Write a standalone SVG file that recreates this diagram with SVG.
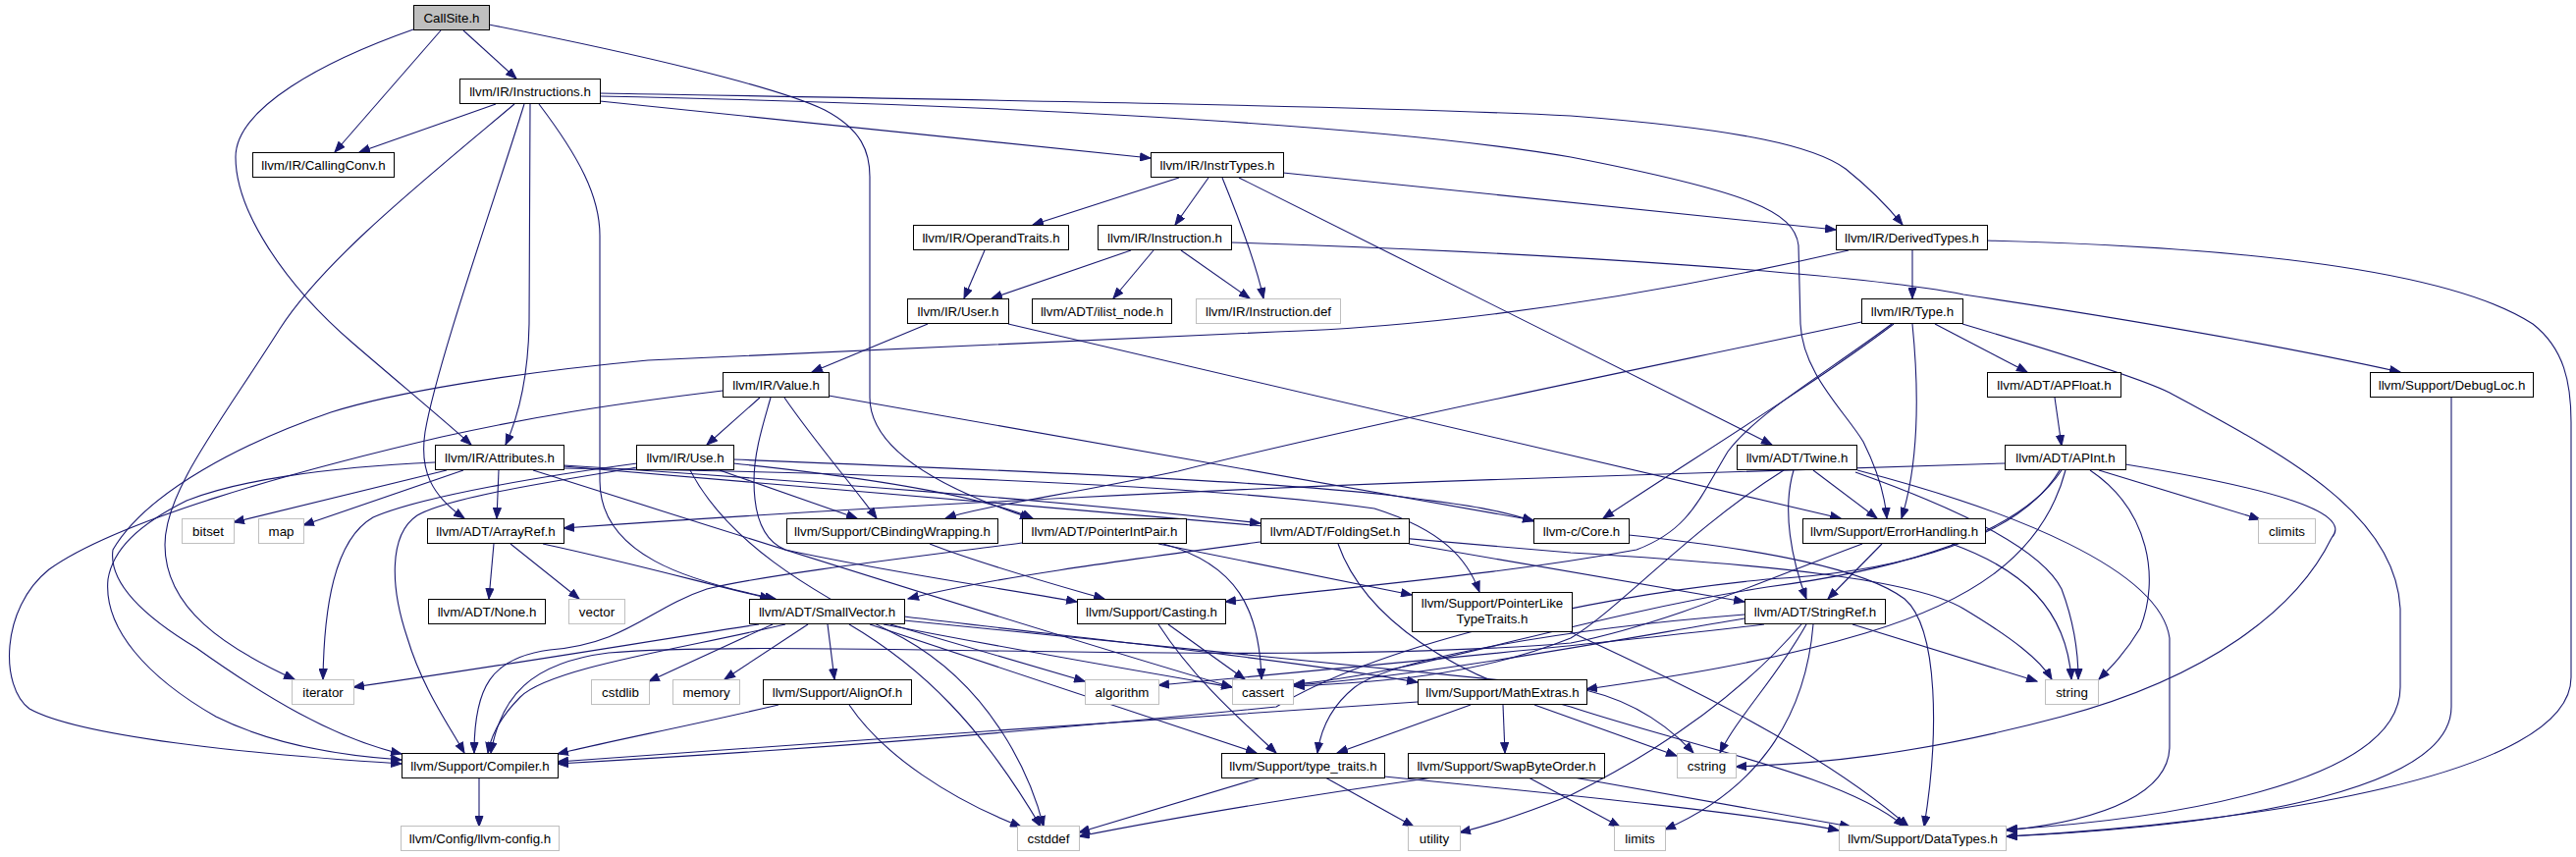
<svg xmlns="http://www.w3.org/2000/svg" width="2624" height="873" viewBox="0 0 2624 873">
<style>
.bg{fill:#fff}
.n rect{fill:#fff;stroke:#000;stroke-width:1}
.g rect{fill:#fff;stroke:#bfbfbf;stroke-width:1}
.root rect{fill:#bfbfbf;stroke:#000;stroke-width:1}
text{font-family:"Liberation Sans",Arial,Helvetica,sans-serif;font-size:13.33px;text-anchor:middle;fill:#000}
#edges path{fill:none;stroke:#191970;stroke-width:1.1;marker-end:url(#a)}
</style>
<defs>
<marker id="a" markerWidth="12" markerHeight="9" refX="11" refY="4.5" orient="auto" markerUnits="userSpaceOnUse">
<path d="M0.5,0.5 L11,4.5 L0.5,8.5 z" fill="#191970" stroke="#191970" stroke-width="1"/>
</marker>
</defs>
<rect class="bg" x="0" y="0" width="2624" height="873"/>
<g id="edges">
<path d="M449,31 L341,155"/>
<path d="M472,31 L526,80"/>
<path d="M421,30 C330,62 240,110 240,160 C240,215 290,290 360,350 C410,393 452,428 480,453"/>
<path d="M498,25 C650,55 790,88 840,112 C878,132 886,155 886,180 L886,405 C886,455 950,495 1050,528"/>
<path d="M505,106 L366,155"/>
<path d="M540,106 L539,330 C538,380 530,420 515,453"/>
<path d="M524,106 C430,185 330,265 285,335 C225,430 168,500 168,555 C168,620 230,660 300,692"/>
<path d="M534,106 C505,200 445,370 433,440 C427,480 440,505 473,528"/>
<path d="M549,106 C590,160 611,200 611,240 L611,490 C611,565 700,592 790,610"/>
<path d="M611,103 L1172,161"/>
<path d="M611,95 C900,100 1400,108 1600,118 C1780,132 1850,150 1880,172 C1905,192 1925,213 1938,229"/>
<path d="M611,98 C1000,106 1400,126 1600,160 C1780,195 1828,215 1832,250 L1834,330 C1836,380 1880,420 1898,450 C1912,478 1920,505 1922,528"/>
<path d="M1201,181 L1052,229"/>
<path d="M1231,181 L1197,229"/>
<path d="M1245,181 C1265,230 1280,270 1287,304"/>
<path d="M1262,181 L1805,453"/>
<path d="M1307,176 L1870,234"/>
<path d="M1003,255 L982,304"/>
<path d="M1152,255 L1010,304"/>
<path d="M1175,255 L1134,304"/>
<path d="M1203,255 L1273,304"/>
<path d="M1254,247 C1600,258 1900,280 2000,300 C2200,330 2350,358 2445,379"/>
<path d="M1948,255 L1948,304"/>
<path d="M1883,255 C1600,320 1400,335 1300,338 L660,367 C520,380 400,400 337,420 C250,450 150,500 115,560 C110,595 150,630 200,660 C270,710 340,752 409,768"/>
<path d="M2024,245 C2300,252 2500,278 2580,330 C2612,355 2619,390 2619,430 L2619,690 C2619,790 2300,838 2044,852"/>
<path d="M1971,330 L2065,379"/>
<path d="M1999,330 C2100,360 2180,385 2210,400 C2320,460 2440,520 2445,620 L2445,700 C2445,800 2200,835 2044,845"/>
<path d="M1896,328 C1700,370 1400,430 1200,480 C1080,505 1000,516 963,528"/>
<path d="M1929,330 C1850,390 1720,470 1633,528"/>
<path d="M1927,330 C1860,380 1790,420 1760,460 C1730,510 1720,540 1667,560 C1530,585 1400,595 1248,613"/>
<path d="M1948,330 C1955,400 1955,470 1937,528"/>
<path d="M945,330 L827,379"/>
<path d="M1027,330 L1875,528"/>
<path d="M774,405 L720,453"/>
<path d="M785,405 C778,430 768,460 768,490 C768,530 780,552 800,560 C900,582 1000,596 1097,613"/>
<path d="M799,405 C830,450 865,490 893,528"/>
<path d="M844,403 L1562,530"/>
<path d="M736,398 C620,412 540,425 450,445 C300,480 120,530 50,580 C0,620 0,700 30,722 C80,750 250,768 409,778"/>
<path d="M649,476 C580,488 460,505 425,525 C395,545 398,600 415,650 C430,700 455,735 473,767"/>
<path d="M649,472 C560,484 430,505 380,527 C340,550 330,620 329,692"/>
<path d="M747,472 C900,488 1000,506 1052,528"/>
<path d="M733,479 L873,528"/>
<path d="M747,468 C1000,478 1300,490 1420,505 C1500,515 1530,520 1562,531"/>
<path d="M703,479 C740,550 820,600 920,650 C1010,700 1050,790 1063,842"/>
<path d="M455,479 L238,532"/>
<path d="M472,479 L309,535"/>
<path d="M508,479 L506,528"/>
<path d="M443,471 C330,476 240,490 190,510 C140,535 115,560 110,590 C105,640 150,690 220,730 C280,760 350,770 409,774"/>
<path d="M574,474 C800,488 1100,512 1284,533"/>
<path d="M574,477 C800,480 1200,490 1400,518 C1470,540 1495,570 1507,603"/>
<path d="M543,479 C800,560 1050,640 1255,700"/>
<path d="M574,475 C900,500 1300,540 1600,563 C1800,575 1950,590 2000,620 C2050,650 2078,672 2090,692"/>
<path d="M503,554 L498,610"/>
<path d="M520,554 L590,610"/>
<path d="M553,554 C650,575 720,595 785,610"/>
<path d="M947,554 C1000,575 1080,597 1125,610"/>
<path d="M1180,554 L1438,606"/>
<path d="M1185,554 C1260,575 1283,620 1285,692"/>
<path d="M1041,553 C950,565 780,585 720,600 C660,620 640,655 560,662 C500,670 483,700 483,767"/>
<path d="M1284,552 C1150,570 1000,590 925,610"/>
<path d="M1435,554 L1777,613"/>
<path d="M1363,554 C1390,630 1480,690 1600,720 C1720,760 1880,790 1940,842"/>
<path d="M1659,545 C1800,560 1900,580 1940,610 C1975,640 1975,750 1960,842"/>
<path d="M1897,554 C1800,590 1700,635 1600,655 C1300,680 800,650 620,665 C540,675 510,710 500,767"/>
<path d="M1917,554 L1862,610"/>
<path d="M1988,554 C2060,580 2105,620 2110,692"/>
<path d="M1827,479 C1815,520 1825,570 1840,610"/>
<path d="M1847,479 L1912,528"/>
<path d="M1892,479 C2050,520 2200,580 2210,650 L2210,760 C2210,805 2150,835 2044,846"/>
<path d="M1890,481 C2000,520 2080,560 2100,600 C2115,640 2117,670 2117,692"/>
<path d="M1817,479 C1720,540 1650,620 1600,650 C1500,690 1400,695 1318,699"/>
<path d="M2042,472 L1600,486 C1300,495 900,515 574,538"/>
<path d="M2098,479 C2050,560 1900,585 1800,590 C1600,610 1400,660 1300,720 C1000,750 800,765 568,778"/>
<path d="M2104,479 C2080,570 2000,615 1900,645 C1800,675 1700,690 1616,702"/>
<path d="M2129,479 C2190,520 2200,590 2180,640 C2165,665 2150,680 2138,692"/>
<path d="M2138,479 L2302,529"/>
<path d="M2165,473 C2300,495 2400,520 2375,548 C2340,620 2250,690 2100,730 C1950,770 1850,778 1768,781"/>
<path d="M2100,479 C2050,555 1900,585 1800,598 C1600,630 1450,685 1318,697"/>
<path d="M1777,630 C1600,660 1450,688 1318,698"/>
<path d="M1797,636 C1600,660 1350,682 1180,698"/>
<path d="M1777,626 C1600,640 1420,670 1380,700 C1355,720 1345,745 1342,767"/>
<path d="M1887,636 L2075,694"/>
<path d="M1840,636 C1810,690 1770,730 1752,767"/>
<path d="M1835,636 C1780,700 1700,760 1600,810 C1550,830 1520,840 1487,848"/>
<path d="M1847,636 C1840,720 1800,800 1696,845"/>
<path d="M787,636 L661,694"/>
<path d="M823,636 L738,692"/>
<path d="M843,636 L850,692"/>
<path d="M773,636 C650,655 500,680 360,700"/>
<path d="M800,636 C700,660 560,680 530,710 C510,730 500,750 497,767"/>
<path d="M907,636 L1105,694"/>
<path d="M900,636 C1050,665 1150,682 1255,700"/>
<path d="M865,636 C940,680 1000,740 1060,842"/>
<path d="M886,636 L1280,767"/>
<path d="M921,628 C1100,650 1300,670 1444,695"/>
<path d="M921,632 C1200,660 1500,690 1600,700 C1660,710 1700,740 1725,767"/>
<path d="M1190,636 L1268,692"/>
<path d="M1180,636 C1215,690 1260,730 1300,767"/>
<path d="M793,718 C700,740 620,755 568,768"/>
<path d="M865,718 C900,770 970,815 1040,842"/>
<path d="M1444,715 C1200,730 800,760 568,776"/>
<path d="M1498,718 L1362,767"/>
<path d="M1531,718 L1533,767"/>
<path d="M1563,718 L1708,770"/>
<path d="M1350,792 L1440,842"/>
<path d="M1410,791 C1600,810 1800,830 1873,846"/>
<path d="M1285,792 L1099,848"/>
<path d="M1557,792 L1650,842"/>
<path d="M1603,792 L1885,842"/>
<path d="M1460,792 C1300,815 1200,832 1099,852"/>
<path d="M488,792 L488,842"/>
<path d="M2497,405 L2497,720 C2497,800 2300,840 2044,852"/>
<path d="M2093,405 L2100,454"/>
<path d="M1598,643 C1700,690 1850,760 1944,842"/>
</g>
<g id="n_callsite" class="root"><rect x="421.5" y="5.5" width="77" height="25"/><text x="460" y="22.5">CallSite.h</text></g>
<g id="n_instructions" class="n"><rect x="468.5" y="80.5" width="143" height="25"/><text x="540" y="97.5">llvm/IR/Instructions.h</text></g>
<g id="n_callingconv" class="n"><rect x="257.5" y="155.5" width="144" height="25"/><text x="329.5" y="172.5">llvm/IR/CallingConv.h</text></g>
<g id="n_instrtypes" class="n"><rect x="1172.5" y="155.5" width="135" height="25"/><text x="1240" y="172.5">llvm/IR/InstrTypes.h</text></g>
<g id="n_operandtraits" class="n"><rect x="930.5" y="229.5" width="158" height="25"/><text x="1009.5" y="246.5">llvm/IR/OperandTraits.h</text></g>
<g id="n_instruction" class="n"><rect x="1118.5" y="229.5" width="136" height="25"/><text x="1186.5" y="246.5">llvm/IR/Instruction.h</text></g>
<g id="n_derivedtypes" class="n"><rect x="1870.5" y="229.5" width="154" height="25"/><text x="1947.5" y="246.5">llvm/IR/DerivedTypes.h</text></g>
<g id="n_user" class="n"><rect x="924.5" y="304.5" width="103" height="25"/><text x="976" y="321.5">llvm/IR/User.h</text></g>
<g id="n_ilist" class="n"><rect x="1051.5" y="304.5" width="142" height="25"/><text x="1122.5" y="321.5">llvm/ADT/ilist_node.h</text></g>
<g id="n_instrdef" class="g"><rect x="1218.5" y="304.5" width="147" height="25"/><text x="1292" y="321.5">llvm/IR/Instruction.def</text></g>
<g id="n_type" class="n"><rect x="1896.5" y="304.5" width="103" height="25"/><text x="1948" y="321.5">llvm/IR/Type.h</text></g>
<g id="n_value" class="n"><rect x="736.5" y="379.5" width="108" height="25"/><text x="790.5" y="396.5">llvm/IR/Value.h</text></g>
<g id="n_apfloat" class="n"><rect x="2024.5" y="379.5" width="136" height="25"/><text x="2092.5" y="396.5">llvm/ADT/APFloat.h</text></g>
<g id="n_debugloc" class="n"><rect x="2414.5" y="379.5" width="166" height="25"/><text x="2497.5" y="396.5">llvm/Support/DebugLoc.h</text></g>
<g id="n_attributes" class="n"><rect x="443.5" y="453.5" width="131" height="25"/><text x="509" y="470.5">llvm/IR/Attributes.h</text></g>
<g id="n_use" class="n"><rect x="648.5" y="453.5" width="99" height="25"/><text x="698" y="470.5">llvm/IR/Use.h</text></g>
<g id="n_twine" class="n"><rect x="1769.5" y="453.5" width="122" height="25"/><text x="1830.5" y="470.5">llvm/ADT/Twine.h</text></g>
<g id="n_apint" class="n"><rect x="2042.5" y="453.5" width="123" height="25"/><text x="2104" y="470.5">llvm/ADT/APInt.h</text></g>
<g id="n_bitset" class="g"><rect x="185.5" y="528.5" width="53" height="25"/><text x="212" y="545.5">bitset</text></g>
<g id="n_map" class="g"><rect x="263.5" y="528.5" width="46" height="25"/><text x="286.5" y="545.5">map</text></g>
<g id="n_arrayref" class="n"><rect x="435.5" y="528.5" width="139" height="25"/><text x="505" y="545.5">llvm/ADT/ArrayRef.h</text></g>
<g id="n_cbinding" class="n"><rect x="801.5" y="528.5" width="215" height="25"/><text x="909" y="545.5">llvm/Support/CBindingWrapping.h</text></g>
<g id="n_pointerintpair" class="n"><rect x="1041.5" y="528.5" width="167" height="25"/><text x="1125" y="545.5">llvm/ADT/PointerIntPair.h</text></g>
<g id="n_foldingset" class="n"><rect x="1284.5" y="528.5" width="151" height="25"/><text x="1360" y="545.5">llvm/ADT/FoldingSet.h</text></g>
<g id="n_core" class="n"><rect x="1562.5" y="528.5" width="97" height="25"/><text x="1611" y="545.5">llvm-c/Core.h</text></g>
<g id="n_errorhandling" class="n"><rect x="1836.5" y="528.5" width="186" height="25"/><text x="1929.5" y="545.5">llvm/Support/ErrorHandling.h</text></g>
<g id="n_climits" class="g"><rect x="2300.5" y="528.5" width="58" height="25"/><text x="2329.5" y="545.5">climits</text></g>
<g id="n_pltt" class="n"><rect x="1438.5" y="603.5" width="163" height="40"/><text x="1520" y="618.5">llvm/Support/PointerLike</text><text x="1520" y="634.5">TypeTraits.h</text></g>
<g id="n_none" class="n"><rect x="436.5" y="610.5" width="119" height="25"/><text x="496" y="627.5">llvm/ADT/None.h</text></g>
<g id="n_vector" class="g"><rect x="579.5" y="610.5" width="57" height="25"/><text x="608" y="627.5">vector</text></g>
<g id="n_smallvector" class="n"><rect x="763.5" y="610.5" width="158" height="25"/><text x="842.5" y="627.5">llvm/ADT/SmallVector.h</text></g>
<g id="n_casting" class="n"><rect x="1097.5" y="610.5" width="151" height="25"/><text x="1173" y="627.5">llvm/Support/Casting.h</text></g>
<g id="n_stringref" class="n"><rect x="1777.5" y="610.5" width="143" height="25"/><text x="1849" y="627.5">llvm/ADT/StringRef.h</text></g>
<g id="n_iterator" class="g"><rect x="297.5" y="692.5" width="63" height="25"/><text x="329" y="709.5">iterator</text></g>
<g id="n_cstdlib" class="g"><rect x="602.5" y="692.5" width="59" height="25"/><text x="632" y="709.5">cstdlib</text></g>
<g id="n_memory" class="g"><rect x="685.5" y="692.5" width="68" height="25"/><text x="719.5" y="709.5">memory</text></g>
<g id="n_alignof" class="n"><rect x="777.5" y="692.5" width="151" height="25"/><text x="853" y="709.5">llvm/Support/AlignOf.h</text></g>
<g id="n_algorithm" class="g"><rect x="1105.5" y="692.5" width="75" height="25"/><text x="1143" y="709.5">algorithm</text></g>
<g id="n_cassert" class="g"><rect x="1255.5" y="692.5" width="62" height="25"/><text x="1286.5" y="709.5">cassert</text></g>
<g id="n_mathextras" class="n"><rect x="1444.5" y="692.5" width="172" height="25"/><text x="1530.5" y="709.5">llvm/Support/MathExtras.h</text></g>
<g id="n_string" class="g"><rect x="2083.5" y="692.5" width="54" height="25"/><text x="2110.5" y="709.5">string</text></g>
<g id="n_compiler" class="n"><rect x="409.5" y="767.5" width="159" height="25"/><text x="489" y="784.5">llvm/Support/Compiler.h</text></g>
<g id="n_typetraits" class="n"><rect x="1244.5" y="767.5" width="166" height="25"/><text x="1327.5" y="784.5">llvm/Support/type_traits.h</text></g>
<g id="n_swapbyteorder" class="n"><rect x="1434.5" y="767.5" width="200" height="25"/><text x="1534.5" y="784.5">llvm/Support/SwapByteOrder.h</text></g>
<g id="n_cstring" class="g"><rect x="1708.5" y="767.5" width="60" height="25"/><text x="1738.5" y="784.5">cstring</text></g>
<g id="n_llvmconfig" class="g"><rect x="408.5" y="841.5" width="161" height="25"/><text x="489" y="858.5">llvm/Config/llvm-config.h</text></g>
<g id="n_cstddef" class="g"><rect x="1036.5" y="841.5" width="63" height="25"/><text x="1068" y="858.5">cstddef</text></g>
<g id="n_utility" class="g"><rect x="1434.5" y="841.5" width="53" height="25"/><text x="1461" y="858.5">utility</text></g>
<g id="n_limits" class="g"><rect x="1644.5" y="841.5" width="52" height="25"/><text x="1670.5" y="858.5">limits</text></g>
<g id="n_datatypes" class="g"><rect x="1873.5" y="841.5" width="170" height="25"/><text x="1958.5" y="858.5">llvm/Support/DataTypes.h</text></g>
</svg>
